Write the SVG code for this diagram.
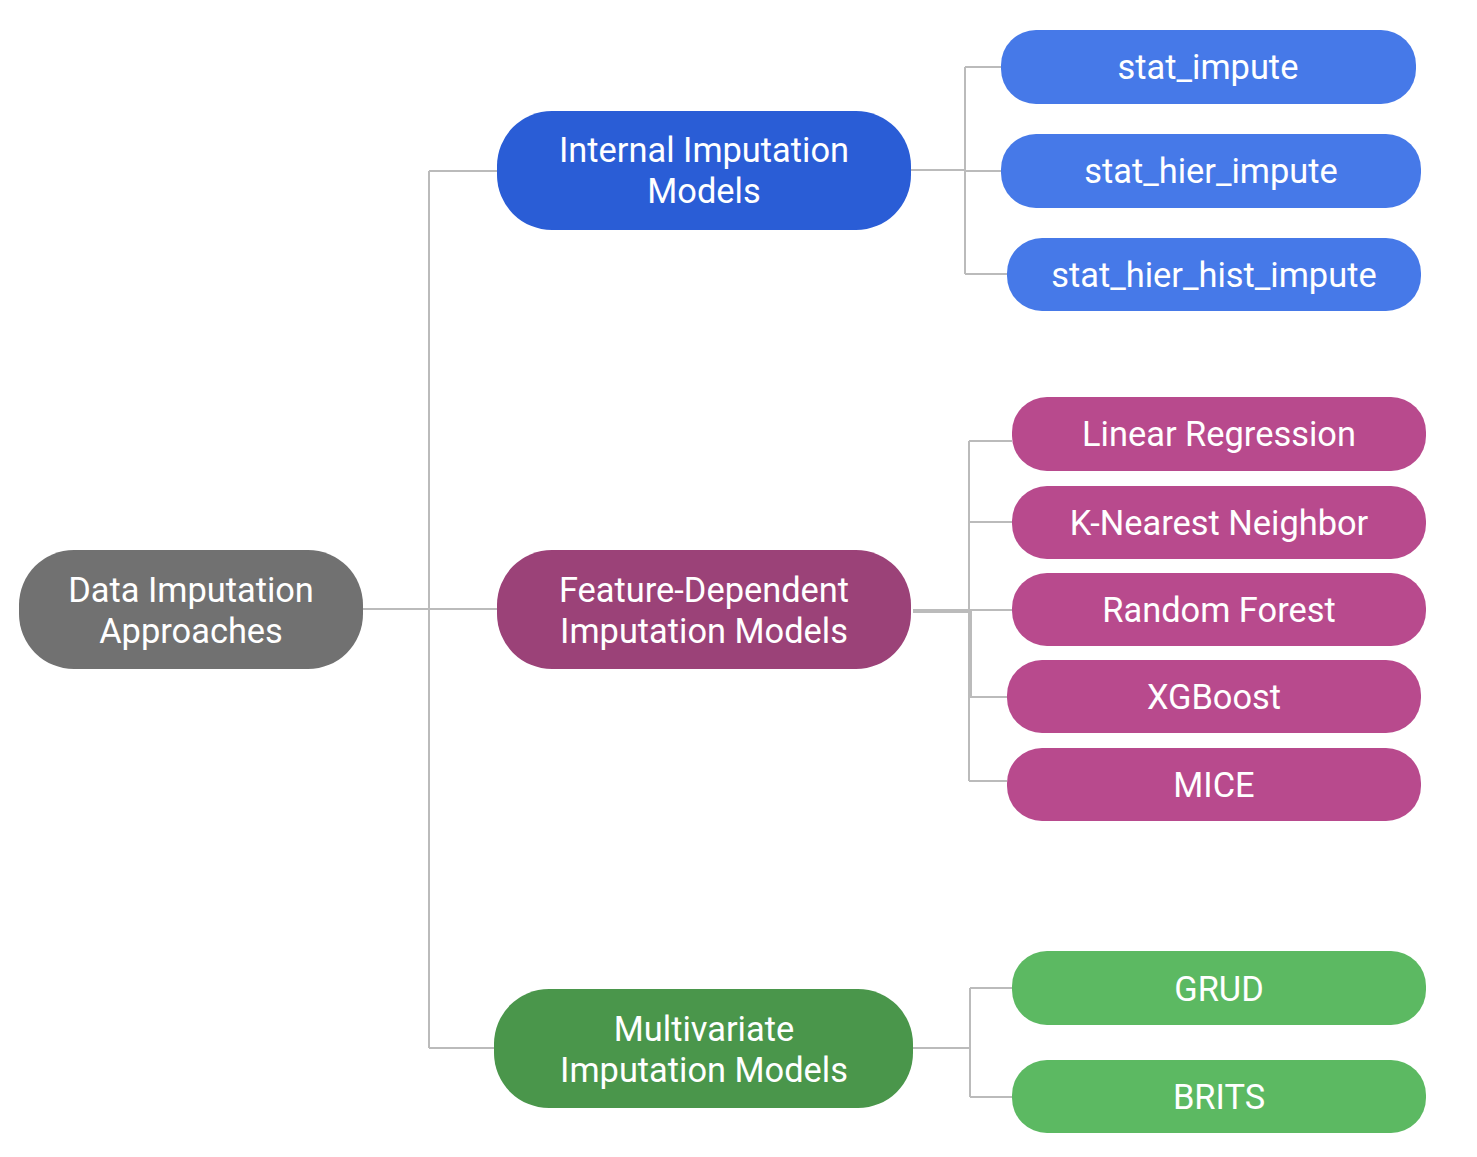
<svg xmlns="http://www.w3.org/2000/svg" width="1477" height="1157" viewBox="0 0 1477 1157">
<style>
.lbl{font-family:Roboto,"Liberation Sans",sans-serif;font-size:34.4px;fill:#ffffff;text-anchor:middle}
.conn{fill:none;stroke:#bbbbbb;stroke-width:2}
.thick{stroke-width:4}
.root{fill:#717171}
.int{fill:#2a5dd6}
.feat{fill:#9b4278}
.mult{fill:#4a964b}
.lb{fill:#4679e8}
.lm{fill:#b84a8d}
.lg{fill:#5cb962}
</style>
<rect width="1477" height="1157" fill="#ffffff"/>
<g id="connectors">
<path class="conn" d="M363,609 H429 M429,171 V1048 M429,171 H497 M429,609 H497 M429,1048 H494"/>
<path class="conn" d="M911,170 H965 M965,67 V274 M965,67 H1001 M965,171 H1001 M965,274 H1007"/>
<path class="conn thick" d="M913,611 H970 V697"/>
<path class="conn" d="M969,441 V781 M969,441 H1012 M969,522 H1012 M969,610 H1012 M969,697 H1007 M969,781 H1007"/>
<path class="conn" d="M913,1048 H970 M970,988 V1097 M970,988 H1012 M970,1097 H1012"/>
</g>
<g id="root">
<rect class="root" x="19" y="550" width="344" height="119" rx="55"/>
<text class="lbl" x="191" y="602">Data Imputation</text>
<text class="lbl" x="191" y="643">Approaches</text>
</g>
<g id="internal">
<rect class="int" x="497" y="111" width="414" height="119" rx="55"/>
<text class="lbl" x="704" y="162">Internal Imputation</text>
<text class="lbl" x="704" y="203">Models</text>
</g>
<g id="feature">
<rect class="feat" x="497" y="550" width="414" height="119" rx="55"/>
<text class="lbl" x="704" y="602">Feature-Dependent</text>
<text class="lbl" x="704" y="643">Imputation Models</text>
</g>
<g id="multivariate">
<rect class="mult" x="494" y="989" width="419" height="119" rx="55"/>
<text class="lbl" x="704" y="1041">Multivariate</text>
<text class="lbl" x="704" y="1082">Imputation Models</text>
</g>
<g id="stat_impute">
<rect class="lb" x="1001" y="30" width="415" height="74" rx="35"/>
<text class="lbl" x="1208" y="79">stat_impute</text>
</g>
<g id="stat_hier_impute">
<rect class="lb" x="1001" y="134" width="420" height="74" rx="35"/>
<text class="lbl" x="1211" y="183">stat_hier_impute</text>
</g>
<g id="stat_hier_hist_impute">
<rect class="lb" x="1007" y="238" width="414" height="73" rx="35"/>
<text class="lbl" x="1214" y="287">stat_hier_hist_impute</text>
</g>
<g id="linear_regression">
<rect class="lm" x="1012" y="397" width="414" height="74" rx="35"/>
<text class="lbl" x="1219" y="446">Linear Regression</text>
</g>
<g id="knn">
<rect class="lm" x="1012" y="486" width="414" height="73" rx="35"/>
<text class="lbl" x="1219" y="535">K-Nearest Neighbor</text>
</g>
<g id="random_forest">
<rect class="lm" x="1012" y="573" width="414" height="73" rx="35"/>
<text class="lbl" x="1219" y="622">Random Forest</text>
</g>
<g id="xgboost">
<rect class="lm" x="1007" y="660" width="414" height="73" rx="35"/>
<text class="lbl" x="1214" y="709">XGBoost</text>
</g>
<g id="mice">
<rect class="lm" x="1007" y="748" width="414" height="73" rx="35"/>
<text class="lbl" x="1214" y="797">MICE</text>
</g>
<g id="grud">
<rect class="lg" x="1012" y="951" width="414" height="74" rx="35"/>
<text class="lbl" x="1219" y="1001">GRUD</text>
</g>
<g id="brits">
<rect class="lg" x="1012" y="1060" width="414" height="73" rx="35"/>
<text class="lbl" x="1219" y="1109">BRITS</text>
</g>
</svg>
